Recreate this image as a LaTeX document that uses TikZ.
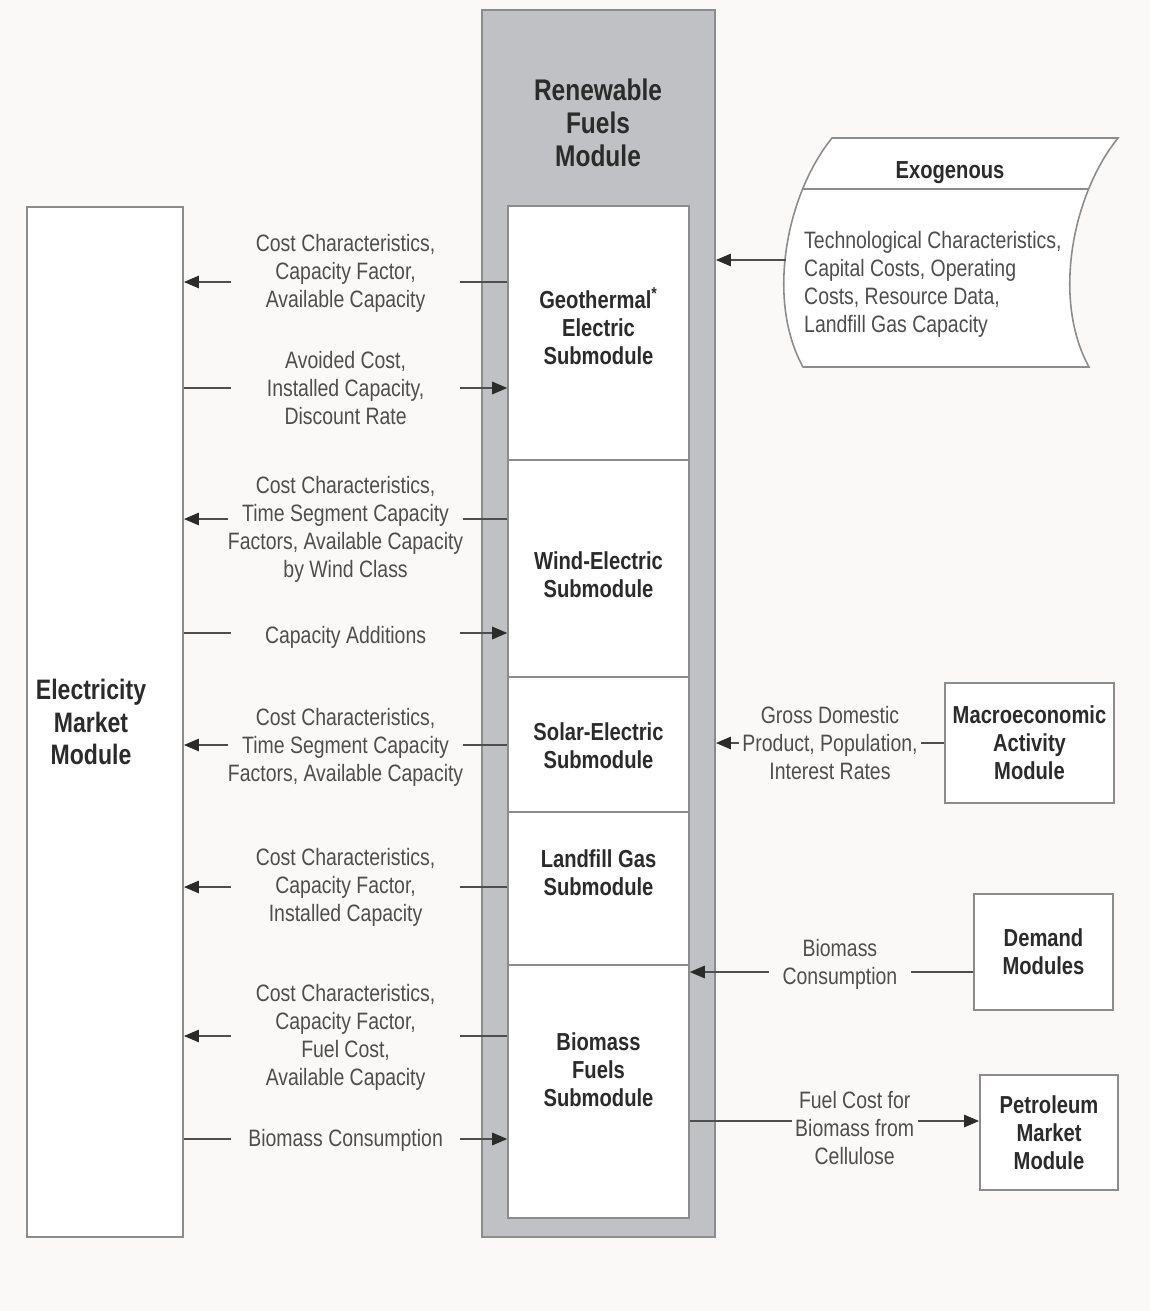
\documentclass[tikz,border=0pt]{standalone}
\usepackage{fontspec}
\setmainfont{Liberation Sans}[FakeStretch=0.82]
\usetikzlibrary{positioning,arrows.meta}

\definecolor{paper}{HTML}{FBF9F8}
\definecolor{panel}{HTML}{BFC1C4}
\definecolor{frame}{HTML}{8C8C8C}
\definecolor{ink}{HTML}{2B2B2B}
\definecolor{softink}{HTML}{4E4E4E}

\tikzset{
  box/.style={draw=frame, line width=1.1pt, fill=white, align=center, text=ink,
    font=\bfseries\fontsize{14}{15.9}\selectfont},
  subbox/.style={draw=frame, line width=0.9pt, fill=white, minimum width=3.62cm, inner sep=0pt},
  subtext/.style={align=center, text=ink, font=\bfseries\fontsize{14}{15.9}\selectfont},
  flowtext/.style={align=center, fill=paper, text=softink, inner ysep=1pt,
    font=\fontsize{13.5}{15.9}\selectfont},
  sidetext/.style={flowtext, minimum width=4.58cm, inner xsep=0pt},
  flow/.style={draw=softink, line width=0.8pt, -{Triangle[length=0.3cm,width=0.25cm,color=ink]}},
}

\begin{document}
\begin{tikzpicture}[x=0.02cm, y=-0.02cm]
  \fill[paper] (0,0) rectangle (1150,1311);

  % --------
  % Renewable Fuels Module
  % --------
  \node[draw=frame, line width=1.1pt, fill=panel, minimum width=4.66cm, minimum height=24.54cm] at (598.5, 623.5) (rfm) {};
  \node[subtext, font=\bfseries\fontsize{17}{18.7}\selectfont] at (598, 123) (rfmtitle) {Renewable\\Fuels\\Module};

  \node[subbox, minimum height=5.08cm, label={[subtext, yshift=0.14cm]center:Geothermal\textsuperscript{*}\\Electric\\Submodule}] at (598.5, 333) (geo) {};
  \node[subbox, minimum height=4.34cm, label={[subtext, yshift=-0.13cm]center:Wind-Electric\\Submodule}] at (598.5, 568.5) (wind) {};
  \node[subbox, minimum height=2.70cm, label={[subtext, yshift=-0.02cm]center:Solar-Electric\\Submodule}] at (598.5, 744.5) (solar) {};
  \node[subbox, minimum height=3.06cm, label={[subtext, yshift=0.31cm]center:Landfill Gas\\Submodule}] at (598.5, 888.5) (landfill) {};
  \node[subbox, minimum height=5.06cm, label={[subtext, yshift=0.43cm]center:Biomass\\Fuels\\Submodule}] at (598.5, 1091.5) (biomass) {};

  % --------
  % Electricity Market Module
  % --------
  \node[box, minimum width=3.12cm, minimum height=20.6cm] at (105, 722) (emm) {};
  \node[subtext, font=\bfseries\fontsize{16}{18.7}\selectfont] at (91, 722) (emmtext) {Electricity\\Market\\Module};

  % Draw line
  \draw[flow] (geo.west |- 0,282) -- node[sidetext, yshift=0.17cm] {Cost Characteristics,\\Capacity Factor,\\Available Capacity} (emm.east |- 0,282);
  \draw[flow] (emm.east |- 0,388) -- node[sidetext] {Avoided Cost,\\Installed Capacity,\\Discount Rate} (geo.west |- 0,388);
  \draw[flow] (wind.west |- 0,519) -- node[sidetext, yshift=-0.2cm] {Cost Characteristics,\\Time Segment Capacity\\Factors, Available Capacity\\by Wind Class} (emm.east |- 0,519);
  \draw[flow] (emm.east |- 0,633) -- node[sidetext, yshift=-0.08cm] {Capacity Additions} (wind.west |- 0,633);
  \draw[flow] (solar.west |- 0,745) -- node[sidetext, yshift=-0.05cm] {Cost Characteristics,\\Time Segment Capacity\\Factors, Available Capacity} (emm.east |- 0,745);
  \draw[flow] (landfill.west |- 0,887) -- node[sidetext] {Cost Characteristics,\\Capacity Factor,\\Installed Capacity} (emm.east |- 0,887);
  \draw[flow] (biomass.west |- 0,1036) -- node[sidetext, yshift=-0.03cm] {Cost Characteristics,\\Capacity Factor,\\Fuel Cost,\\Available Capacity} (emm.east |- 0,1036);
  \draw[flow] (emm.east |- 0,1139) -- node[sidetext, yshift=-0.03cm] {Biomass Consumption} (biomass.west |- 0,1139);

  % --------
  % Exogenous
  % --------
  \draw[draw=frame, line width=0.9pt, fill=white]
    (832,138) -- (1118,138) .. controls (1072,195) and (1052,300) .. (1089,367)
    -- (803,367) .. controls (766,300) and (786,195) .. (832,138) -- cycle;
  \draw[draw=frame, line width=0.9pt] (803,189) -- (1089,189);
  \node[subtext] at (950, 173) (exotitle) {Exogenous};
  \node[flowtext, fill=none, align=left, anchor=west] at (798, 284) (exobody) {Technological Characteristics,\\Capital Costs, Operating\\Costs, Resource Data,\\Landfill Gas Capacity};
  \coordinate (exo) at (786, 260);
  \draw[flow] (exo) -- (rfm.east |- exo);

  % --------
  % Other modules
  % --------
  \node[box, minimum width=3.38cm, minimum height=2.4cm] at (1029.5, 743) (macro) {Macroeconomic\\Activity\\Module};
  \node[box, minimum width=2.78cm, minimum height=2.32cm] at (1043.5, 952) (demand) {Demand\\Modules};
  \node[box, minimum width=2.76cm, minimum height=2.3cm] at (1049, 1132.5) (petro) {Petroleum\\Market\\Module};

  % Draw line
  \draw[flow] (macro.west |- 0,743) -- node[flowtext, inner xsep=2pt] {Gross Domestic\\Product, Population,\\Interest Rates} (rfm.east |- 0,743);
  \draw[flow] (demand.west |- 0,972) -- node[flowtext, inner xsep=8pt, pos=0.47, yshift=0.16cm] {Biomass\\Consumption} (biomass.east |- 0,972);
  \draw[flow] (biomass.east |- 0,1121) -- node[flowtext, inner xsep=2pt, pos=0.57, yshift=-0.14cm] {Fuel Cost for\\Biomass from\\Cellulose} (petro.west |- 0,1121);

\end{tikzpicture}
\end{document}
